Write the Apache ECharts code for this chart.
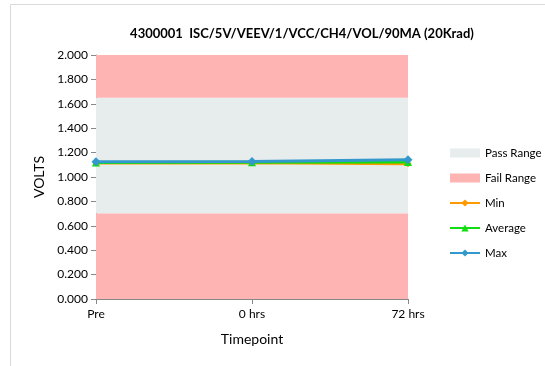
<!DOCTYPE html>
<html>
<head>
<meta charset="utf-8">
<style>
  html, body { margin: 0; padding: 0; background: #fff; }
  #chart { width: 545px; height: 366px; }
</style>
<script src="https://cdn.jsdelivr.net/npm/echarts@6/dist/echarts.min.js"></script>
</head>
<body>
<div id="chart"></div>
<script>
// Timepoints along the x axis
const timepoints = ['Pre', '0 hrs', '72 hrs'];

// Measured voltages at each timepoint
const minValues = [1.115, 1.116, 1.108];
const avgValues = [1.118, 1.120, 1.122];
const maxValues = [1.125, 1.127, 1.142];

// Pass / fail limits (volts)
const lowerLimit = 0.7;
const upperLimit = 1.65;
const axisMin = 0;
const axisMax = 2;
const axisStep = 0.2;

const font = 'Lato, "Liberation Sans", sans-serif';
const passColor = '#E7ECEC';
const failColor = '#FFB4B4';

const chart = echarts.init(document.getElementById('chart'), null, { renderer: 'canvas' });

chart.setOption({
  animation: false,
  backgroundColor: '#fff',
  title: {
    text: '4300001  ISC/5V/VEEV/1/VCC/CH4/VOL/90MA (20Krad)',
    left: 297, top: 22, textAlign: 'center',
    textStyle: { fontFamily: font, fontSize: 13, fontWeight: 'bold', color: '#000' }
  },
  graphic: [{
    type: 'rect', silent: true, z: -10,
    shape: { x: 10.5, y: 4.5, width: 560, height: 380 },
    style: { fill: 'none', stroke: '#D9D9D9', lineWidth: 1 }
  }],
  legend: {
    orient: 'vertical', left: 444, top: 142,
    itemGap: 13, itemWidth: 30, itemHeight: 9,
    textStyle: { fontFamily: font, fontSize: 11.5, color: '#000' },
    data: [
      { name: 'Pass Range', icon: 'rect' },
      { name: 'Fail Range', icon: 'rect' },
      { name: 'Min' }, { name: 'Average' }, { name: 'Max' }
    ]
  },
  grid: { left: 96, right: 137, top: 55, bottom: 67, containLabel: false },
  xAxis: {
    type: 'category', data: timepoints, boundaryGap: false,
    name: 'Timepoint', nameLocation: 'middle', nameGap: 33,
    nameTextStyle: { fontFamily: font, fontSize: 14, color: '#000' },
    axisLine: { lineStyle: { color: '#888', width: 1 } },
    axisTick: { show: true, alignWithLabel: true, length: 5, lineStyle: { color: '#888' } },
    axisLabel: { fontFamily: font, fontSize: 12, color: '#000', margin: 9 },
    splitLine: { show: false }
  },
  yAxis: {
    type: 'value', min: axisMin, max: axisMax, interval: axisStep,
    name: 'VOLTS', nameLocation: 'middle', nameGap: 50, nameRotate: 90,
    nameTextStyle: { fontFamily: font, fontSize: 14, color: '#000' },
    axisLine: { show: true, lineStyle: { color: '#888', width: 1 } },
    axisTick: { show: true, length: 5, lineStyle: { color: '#888' } },
    axisLabel: { fontFamily: font, fontSize: 12, color: '#000', margin: 8,
      formatter: v => v.toFixed(3) },
    splitLine: { show: false }
  },
  series: [
    {
      name: 'Pass Range', type: 'line', data: [], z: 1,
      itemStyle: { color: passColor }, lineStyle: { color: passColor },
      markArea: {
        silent: true, itemStyle: { color: passColor },
        data: [[{ yAxis: lowerLimit }, { yAxis: upperLimit }]]
      }
    },
    {
      name: 'Fail Range', type: 'line', data: [], z: 1,
      itemStyle: { color: failColor }, lineStyle: { color: failColor },
      markArea: {
        silent: true, itemStyle: { color: failColor },
        data: [
          [{ yAxis: axisMin }, { yAxis: lowerLimit }],
          [{ yAxis: upperLimit }, { yAxis: axisMax }]
        ]
      }
    },
    {
      name: 'Min', type: 'line', data: minValues, z: 3,
      symbol: 'diamond', symbolSize: 7,
      itemStyle: { color: '#FF9900' }, lineStyle: { color: '#FF9900', width: 3 }
    },
    {
      name: 'Average', type: 'line', data: avgValues, z: 4,
      symbol: 'triangle', symbolSize: 8,
      itemStyle: { color: '#11DD11' }, lineStyle: { color: '#11DD11', width: 3 }
    },
    {
      name: 'Max', type: 'line', data: maxValues, z: 5,
      symbol: 'diamond', symbolSize: 9,
      itemStyle: { color: '#3399CC' }, lineStyle: { color: '#3399CC', width: 3 }
    }
  ]
});
</script>
</body>
</html>
